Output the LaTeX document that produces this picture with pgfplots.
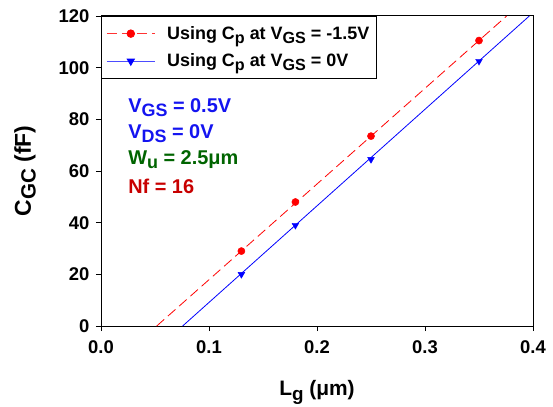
\documentclass[border=0pt]{standalone}
\usepackage{fontspec}
\setmainfont{Liberation Sans}
\usepackage{graphicx}
\usepackage{pgfplots}
\pgfplotsset{compat=1.18}
\definecolor{txtblue}{RGB}{20,20,240}
\definecolor{txtgreen}{RGB}{0,100,0}
\definecolor{txtred}{RGB}{200,0,0}
\newcommand\sub[1]{\raisebox{-0.4ex}{\scalebox{0.9}{#1}}}
\begin{document}
\begin{tikzpicture}
  \useasboundingbox (-101bp,-81bp) rectangle (452bp,326bp);
  \begin{axis}[
    scale only axis,
    width=432bp, height=310bp,
    xmin=0, xmax=0.4, ymin=0, ymax=120,
    xtick={0,0.1,0.2,0.3,0.4},
    ytick={0,20,40,60,80,100,120},
    xticklabel style={/pgf/number format/fixed,/pgf/number format/fixed zerofill,/pgf/number format/precision=1, yshift=-6bp},
    yticklabel style={xshift=-3bp},
    tick align=outside, xtick pos=left, ytick pos=left,
    major tick length=5bp,
    tick style={black, line width=0.8pt},
    axis line style={line width=1pt},
    ticklabel style={font=\fontsize{18.5}{20}\selectfont\bfseries},
    /pgf/number format/assume math mode=true,
    xlabel={\fontsize{21}{23}\selectfont\bfseries L\sub{g} (μm)},
    ylabel={\fontsize{23}{25}\selectfont\bfseries C\sub{GC} (fF)},
    xlabel style={yshift=-20bp},
    ylabel style={yshift=16bp},
    legend style={at={(rel axis cs:0,1)}, anchor=north west, draw=black, line width=0.8pt,
      font=\fontsize{18}{20}\selectfont\bfseries, row sep=9bp, column sep=10bp,
      inner xsep=5bp, inner ysep=8bp},
    legend cell align=left,
    legend image code/.code={
      \draw[#1, mark repeat=2, mark phase=2] plot coordinates {(0bp,0bp) (24bp,0bp) (48bp,0bp)};
    },
  ]
    % fitted lines
    \addplot[red, dashed, dash pattern=on 10bp off 5bp, line width=0.8pt, forget plot]
      coordinates {(0.0516,0) (0.3756,120)};
    \addplot[blue, line width=0.8pt, forget plot]
      coordinates {(0.0756,0) (0.3966,120)};
    % data
    \addplot[red, only marks, mark=*, mark size=3.6bp, forget plot]
      coordinates {(0.13,29) (0.18,48) (0.25,73.5) (0.35,110.5)};
    \addplot[blue, only marks, mark=triangle*, mark options={rotate=180}, mark size=3.9bp, forget plot]
      coordinates {(0.13,20) (0.18,39) (0.25,64.5) (0.35,102.5)};
    \addlegendimage{red!80, dashed, dash pattern=on 10bp off 5bp, line width=0.8pt, mark=*, mark size=3.8bp, mark options={solid, fill=red, draw=red}}
    \addlegendentry{Using C\sub{p} at V\sub{GS} = -1.5V}
    \addlegendimage{blue!70, line width=0.8pt, mark=triangle*, mark size=4.2bp, mark options={rotate=180, fill=blue, draw=blue}}
    \addlegendentry{Using C\sub{p} at V\sub{GS} = 0V}
    \node[anchor=west, text=txtblue, font=\fontsize{20}{22}\selectfont\bfseries] at (axis cs:0.022,84.4) {V\sub{GS} = 0.5V};
    \node[anchor=west, text=txtblue, font=\fontsize{20}{22}\selectfont\bfseries] at (axis cs:0.022,74.5) {V\sub{DS} = 0V};
    \node[anchor=west, text=txtgreen, font=\fontsize{20}{22}\selectfont\bfseries] at (axis cs:0.022,64.3) {W\sub{u} = 2.5μm};
    \node[anchor=west, text=txtred, font=\fontsize{20}{22}\selectfont\bfseries] at (axis cs:0.022,54.2) {Nf = 16};
  \end{axis}
\end{tikzpicture}
\end{document}
